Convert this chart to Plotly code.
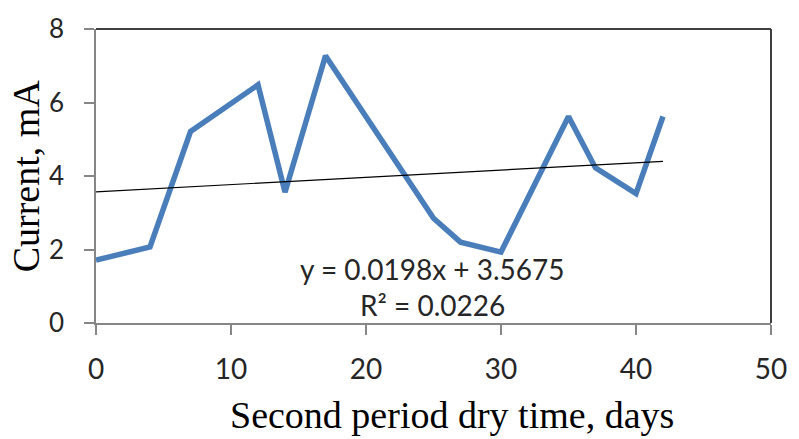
import plotly.graph_objects as go

# Data
days = [0, 4, 7, 12, 14, 17, 25, 27, 30, 35, 37, 40, 42]
current_mA = [1.71, 2.07, 5.21, 6.48, 3.56, 7.27, 2.85, 2.2, 1.93, 5.62, 4.22, 3.52, 5.62]

trend_slope = 0.0198
trend_intercept = 3.5675
r_squared = 0.0226

x_ticks = [0, 10, 20, 30, 40, 50]
y_ticks = [0, 2, 4, 6, 8]

x_title = "Second period dry time, days"
y_title = "Current, mA"

trend_x = [min(days), max(days)]
trend_y = [trend_slope * v + trend_intercept for v in trend_x]

fig = go.Figure()
fig.add_trace(go.Scatter(x=days, y=current_mA, mode="lines",
                         line=dict(color="#4A7EBB", width=5.5),
                         showlegend=False, hoverinfo="x+y"))
fig.add_trace(go.Scatter(x=trend_x, y=trend_y, mode="lines",
                         line=dict(color="#000000", width=1.2),
                         showlegend=False, hoverinfo="skip"))

sans = "Lato, Calibri, sans-serif"
x_tick_font = dict(family=sans, size=28, color="#262626")
y_tick_font = dict(family=sans, size=26, color="#262626")
eq_font = dict(family=sans, size=28, color="#262626")
title_font = dict(family="Liberation Serif, Times New Roman, serif", size=38, color="#000000")

fig.update_layout(
    width=799, height=439,
    margin=dict(l=96, r=19, t=24, b=116),
    paper_bgcolor="white", plot_bgcolor="white",
    xaxis=dict(range=[0, 50], tickvals=x_ticks, ticks="outside", ticklen=10,
               tickcolor="#868686", tickwidth=1.5, showline=True, linecolor="#868686",
               linewidth=1.5, showgrid=False, zeroline=False, tickfont=x_tick_font,
               ticklabelstandoff=11),
    yaxis=dict(range=[0, 8], tickvals=y_ticks, ticks="outside", ticklen=10,
               tickcolor="#868686", tickwidth=1.5, showline=True, linecolor="#868686",
               linewidth=1.5, showgrid=False, zeroline=False, tickfont=y_tick_font,
               ticklabelstandoff=15),
    shapes=[
        dict(type="line", xref="x domain", yref="y domain", x0=0, x1=1, y0=1, y1=1,
             line=dict(color="#404040", width=2)),
        dict(type="line", xref="x domain", yref="y domain", x0=1, x1=1, y0=0, y1=1,
             line=dict(color="#404040", width=2)),
    ],
    annotations=[
        dict(x=24.9, y=1.47, xref="x", yref="y", showarrow=False,
             text=f"y = {trend_slope:.4f}x + {trend_intercept:.4f}", font=eq_font),
        dict(x=24.9, y=0.48, xref="x", yref="y", showarrow=False,
             text=f"R² = {r_squared:.4f}", font=eq_font),
        dict(x=0.527, y=-0.314, xref="paper", yref="paper", showarrow=False,
             xanchor="center", yanchor="middle", text=x_title, font=title_font),
        dict(x=-0.1038, y=0.502, xref="paper", yref="paper", showarrow=False,
             xanchor="center", yanchor="middle", textangle=-90, text=y_title, font=title_font),
    ],
)

fig.write_html("out.html")
